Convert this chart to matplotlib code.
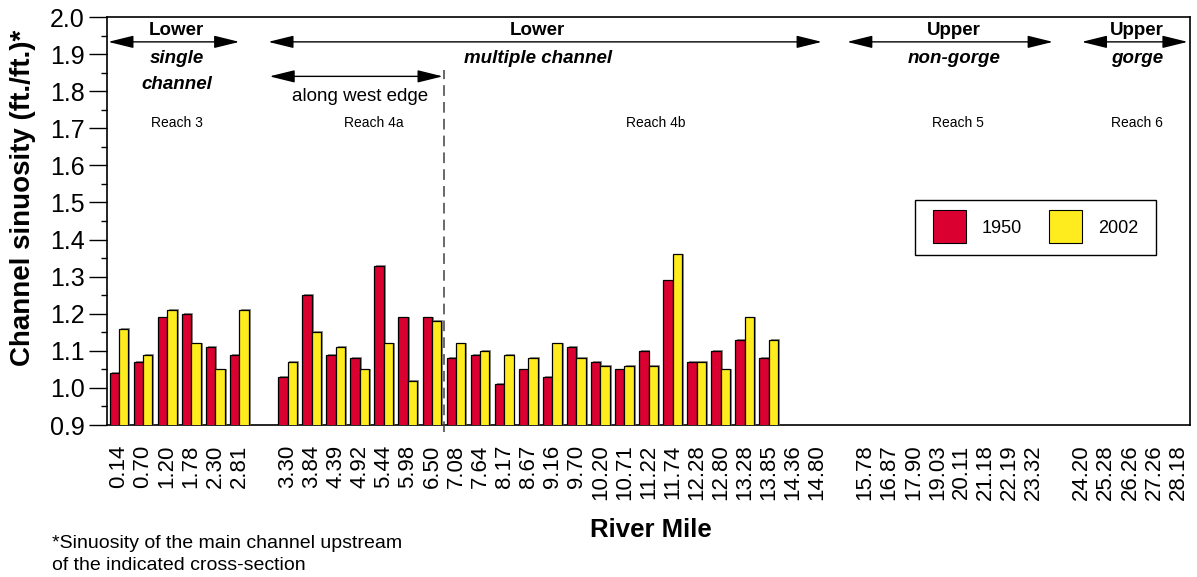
import numpy as np
import matplotlib
matplotlib.use('Agg')
import matplotlib.pyplot as plt
import matplotlib.patheffects as pe
from matplotlib.patches import Patch, Rectangle
from matplotlib.legend_handler import HandlerPatch
from matplotlib.ticker import MultipleLocator, FormatStrFormatter

plt.rcParams['font.family'] = ['Liberation Sans', 'DejaVu Sans']

# river mile of each cross-section, grouped by channel type
lower_single = ['0.14', '0.70', '1.20', '1.78', '2.30', '2.81']
lower_multiple = ['3.30', '3.84', '4.39', '4.92', '5.44', '5.98', '6.50',
                  '7.08', '7.64', '8.17', '8.67', '9.16', '9.70', '10.20',
                  '10.71', '11.22', '11.74', '12.28', '12.80', '13.28',
                  '13.85', '14.36', '14.80']
upper_non_gorge = ['15.78', '16.87', '17.90', '19.03', '20.11', '21.18',
                   '22.19', '23.32']
upper_gorge = ['24.20', '25.28', '26.26', '27.26', '28.18']

nan = np.nan
# channel sinuosity (ft./ft.), nan where not measured
sin_1950 = [1.04, 1.07, 1.19, 1.20, 1.11, 1.09,
            1.03, 1.25, 1.09, 1.08, 1.33, 1.19, 1.19,
            1.08, 1.09, 1.01, 1.05, 1.03, 1.11, 1.07, 1.05, 1.10, 1.29,
            1.07, 1.10, 1.13, 1.08, nan, nan,
            nan, nan, nan, nan, nan, nan, nan, nan,
            nan, nan, nan, nan, nan]
sin_2002 = [1.16, 1.09, 1.21, 1.12, 1.05, 1.21,
            1.07, 1.15, 1.11, 1.05, 1.12, 1.02, 1.18,
            1.12, 1.10, 1.09, 1.08, 1.12, 1.08, 1.06, 1.06, 1.06, 1.36,
            1.07, 1.05, 1.19, 1.13, nan, nan,
            nan, nan, nan, nan, nan, nan, nan, nan,
            nan, nan, nan, nan, nan]

RED = '#da0030'
YELLOW = '#ffec1e'

# one empty slot between the channel-type groups
groups = [lower_single, lower_multiple, upper_non_gorge, upper_gorge]
pos, labels = [], []
start = 0
for g in groups:
    pos.extend(range(start, start + len(g)))
    labels.extend(g)
    start += len(g) + 1
x = np.array(pos, dtype=float)
nslots = start - 1

fig = plt.figure(figsize=(11.97, 5.77), dpi=100)
ax = fig.add_axes([0.0894, 0.2634, 0.9048, 0.7071])

w = 0.39
shadow = [pe.SimplePatchShadow(offset=(1.4, 0.6), shadow_rgbFace='0.4', alpha=0.7),
          pe.Normal()]
ax.bar(x - w / 2, sin_1950, w, color=RED, edgecolor='black', linewidth=0.9,
       path_effects=shadow, zorder=3)
ax.bar(x + w / 2, sin_2002, w, color=YELLOW, edgecolor='black', linewidth=0.9,
       path_effects=shadow, zorder=3)

ax.set_xlim(-0.5, nslots - 0.5)
ax.set_ylim(0.9, 2.0)
ax.set_xticks(x)
ax.set_xticklabels(labels, rotation=90, fontsize=16)
ax.tick_params(axis='x', length=0, pad=14)
ax.yaxis.set_major_locator(MultipleLocator(0.1))
ax.yaxis.set_minor_locator(MultipleLocator(0.05))
ax.yaxis.set_major_formatter(FormatStrFormatter('%.1f'))
ax.tick_params(axis='y', which='major', length=13, width=1, labelsize=18, pad=3)
ax.tick_params(axis='y', which='minor', length=4.5, width=1)
for s in ax.spines.values():
    s.set_linewidth(1.2)

# reach 4a / 4b boundary
ax.plot([13.5, 13.5], [0.88, 1.857], color='0.25', lw=1.1, ls=(0, (7, 4)),
        clip_on=False, zorder=4)

arrow = dict(arrowstyle='<|-|>,head_length=1.3,head_width=0.32', color='black',
             lw=1, shrinkA=0, shrinkB=0, mutation_scale=12)

def span(x0, x1, y):
    ax.annotate('', xy=(x1, y), xytext=(x0, y), arrowprops=arrow,
                annotation_clip=False)

span(-0.45, 5.0, 1.933)
span(6.2, 29.2, 1.933)
span(30.25, 38.8, 1.933)
span(40.0, 44.4, 1.933)
span(6.25, 13.45, 1.84)

bold = dict(ha='center', va='center', fontsize=13.5, fontweight='bold')
ital = dict(ha='center', va='center', fontsize=13.5, fontweight='bold',
            style='italic')
ax.text(2.4, 1.963, 'Lower', **bold)
ax.text(2.4, 1.888, 'single', **ital)
ax.text(2.4, 1.818, 'channel', **ital)
ax.text(17.4, 1.963, 'Lower', **bold)
ax.text(17.4, 1.888, 'multiple channel', **ital)
ax.text(34.7, 1.963, 'Upper', **bold)
ax.text(34.7, 1.888, 'non-gorge', **ital)
ax.text(42.3, 1.963, 'Upper', **bold)
ax.text(42.3, 1.888, 'gorge', **ital)
ax.text(10.0, 1.785, 'along west edge', ha='center', va='center', fontsize=13.5)

reach = [('Reach 3', 2.4), ('Reach 4a', 10.6), ('Reach 4b', 22.3),
         ('Reach 5', 34.85), ('Reach 6', 42.3)]
for name, xr in reach:
    ax.text(xr, 1.715, name, ha='center', va='center', fontsize=10)


def square(legend, orig_handle, xdescent, ydescent, width, height, fontsize):
    # square swatch as wide as the handle box, centred on it
    cy = -ydescent + height / 2
    return Rectangle((-xdescent, cy - width / 2), width, width)


handles = [Patch(facecolor=RED, edgecolor='black', linewidth=0.8, label='1950'),
           Patch(facecolor=YELLOW, edgecolor='black', linewidth=0.8, label='2002')]
leg = ax.legend(handles=handles, ncol=2, loc='upper left',
                bbox_to_anchor=(0.746, 0.551), borderaxespad=0, fontsize=13,
                handlelength=1.8, handleheight=1.0, handletextpad=0.9,
                columnspacing=1.5, borderpad=1.0, fancybox=False,
                framealpha=1, edgecolor='black',
                handler_map={Patch: HandlerPatch(patch_func=square)})
leg.get_frame().set_linewidth(1)

fig.text(23 / 1197, 1 - 198 / 577, 'Channel sinuosity (ft./ft.)*', rotation=90,
         ha='center', va='center', fontsize=20, fontweight='bold')
fig.text(651 / 1197, 1 - 530 / 577, 'River Mile', ha='center', va='center',
         fontsize=18.5, fontweight='bold')
fig.text(52 / 1197, 1 - 543 / 577, '*Sinuosity of the main channel upstream',
         ha='left', va='center', fontsize=14)
fig.text(52 / 1197, 1 - 566 / 577, 'of the indicated cross-section',
         ha='left', va='center', fontsize=14)

fig.savefig('out.png', dpi=100)
